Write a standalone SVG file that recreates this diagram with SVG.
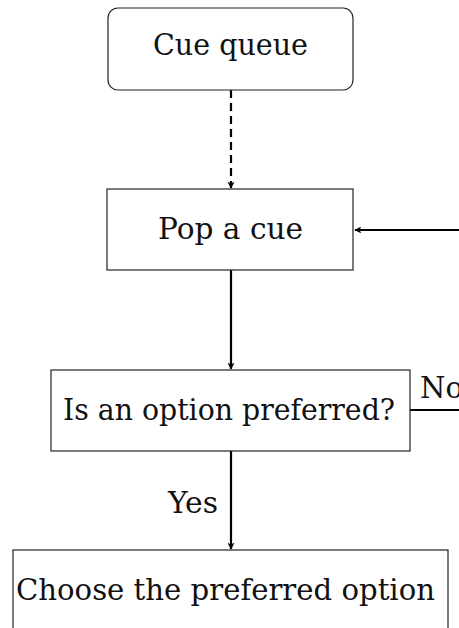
<svg xmlns="http://www.w3.org/2000/svg" width="459" height="628" viewBox="0 0 459 628">
<style>
.box{fill:#fff;stroke:#222;stroke-width:1.2}
.t{font-family:"DejaVu Serif","Liberation Serif",serif;font-size:29px;fill:#111}
.c{fill:none;stroke:#000;stroke-width:2.2}
</style>
<defs>
<marker id="ah" viewBox="0 0 10 10" refX="9" refY="5" markerWidth="7" markerHeight="7" orient="auto" markerUnits="userSpaceOnUse">
<path d="M0,0 L10,5 L0,10 L2.5,5 Z" fill="#000"/>
</marker>
</defs>
<rect width="459" height="628" fill="#fff"/>
<g id="connectors">
<line class="c" x1="231" y1="90" x2="231" y2="188" stroke-dasharray="8,5" marker-end="url(#ah)"/>
<line class="c" x1="231" y1="270" x2="231" y2="369" marker-end="url(#ah)"/>
<line class="c" x1="231" y1="451" x2="231" y2="549" marker-end="url(#ah)"/>
<line class="c" x1="459" y1="230" x2="355" y2="230" marker-end="url(#ah)"/>
<line class="c" x1="410" y1="410" x2="459" y2="410"/>
<text class="t" x="420" y="398">No</text>
<text class="t" x="168" y="513" textLength="50" lengthAdjust="spacingAndGlyphs">Yes</text>
</g>
<g id="cue-queue">
<rect class="box" x="108" y="8" width="245" height="82" rx="10"/>
<text class="t" x="153" y="55" textLength="155" lengthAdjust="spacingAndGlyphs">Cue queue</text>
</g>
<g id="pop-a-cue">
<rect class="box" x="107" y="189" width="246" height="81"/>
<text class="t" x="158" y="239" textLength="145" lengthAdjust="spacingAndGlyphs">Pop a cue</text>
</g>
<g id="is-option-preferred">
<rect class="box" x="51" y="370" width="359" height="81"/>
<text class="t" x="63" y="420" textLength="332" lengthAdjust="spacingAndGlyphs">Is an option preferred?</text>
</g>
<g id="choose-preferred">
<rect class="box" x="13" y="550" width="435" height="100"/>
<text class="t" x="16" y="600" textLength="419" lengthAdjust="spacingAndGlyphs">Choose the preferred option</text>
</g>
</svg>
